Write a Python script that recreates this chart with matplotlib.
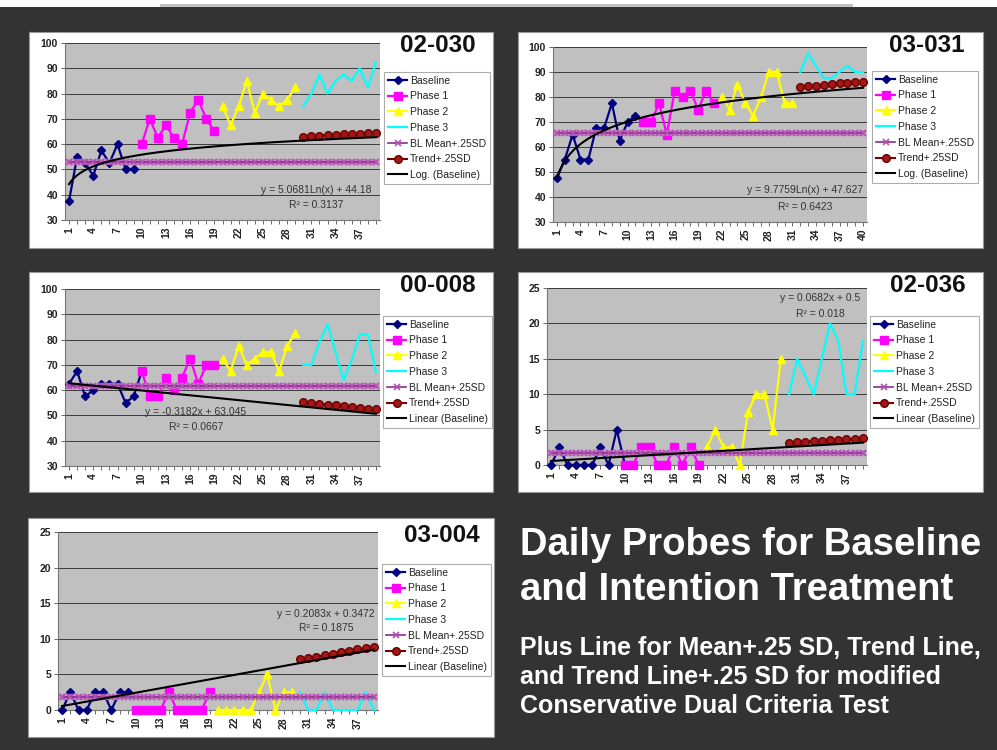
import numpy as np
import matplotlib.pyplot as plt
from matplotlib.patches import Rectangle
from matplotlib.lines import Line2D

plt.rcParams['font.family'] = ['Liberation Sans', 'DejaVu Sans']

W, H = 997, 750

# ---------------- data ----------------
# 02-030
p1_title = '02-030'
p1_ncat = 39
p1_base = [37.5, 55, 52.5, 47.5, 57.5, 52.5, 60, 50, 50]
p1_ph1 = [60, 70, 62.5, 67.5, 62.5, 60, 72.5, 77.5, 70, 65]
p1_ph2 = [75, 67.5, 75, 85, 72.5, 80, 77.5, 75, 77.5, 82.5]
p1_ph3 = [75, 80, 87.5, 80, 85, 87.5, 85, 90, 82.5, 92.5]
p1_starts = [1, 10, 20, 30]
p1_mean = 53
p1_trend_sd = [63.0, 63.2, 63.4, 63.6, 63.8, 63.9, 64.1, 64.2, 64.4, 64.5]
p1_fit = ('log', 5.0681, 44.18)
p1_eq = ['y = 5.0681Ln(x) + 44.18', 'R² = 0.3137']

# 03-031
p2_title = '03-031'
p2_ncat = 40
p2_base = [47.5, 55, 65, 55, 55, 67.5, 67.5, 77.5, 62.5, 70, 72.5]
p2_ph1 = [70, 70, 77.5, 65, 82.5, 80, 82.5, 75, 82.5, 77.5]
p2_ph2 = [80, 75, 85, 77.5, 72.5, 80, 90, 90, 77.5, 77.5]
p2_ph3 = [90, 97.5, 92.5, 87.5, 87.5, 90, 92.5, 90, 90]
p2_starts = [1, 12, 22, 32]
p2_mean = 65.5
p2_trend_sd = [84.0, 84.3, 84.6, 84.9, 85.2, 85.5, 85.7, 86.0, 86.2]
p2_fit = ('log', 9.7759, 47.627)
p2_eq = ['y = 9.7759Ln(x) + 47.627', 'R² = 0.6423']

# 00-008
p3_title = '00-008'
p3_ncat = 39
p3_base = [62.5, 67.5, 57.5, 60, 62.5, 62.5, 62.5, 55, 57.5, 67.5]
p3_ph1 = [67.5, 57.5, 57.5, 65, 60, 65, 72.5, 62.5, 70, 70]
p3_ph2 = [72.5, 67.5, 77.5, 70, 72.5, 75, 75, 67.5, 77.5, 82.5]
p3_ph3 = [70, 70, 79, 86, 75, 64, 72, 82, 82, 67]
p3_starts = [1, 10, 20, 30]
p3_mean = 61.8
p3_trend_sd = [55.2, 54.9, 54.6, 54.3, 54.0, 53.6, 53.3, 53.0, 52.7, 52.4]
p3_fit = ('lin', -0.3182, 63.045)
p3_eq = ['y = -0.3182x + 63.045', 'R² = 0.0667']

# 02-036
p4_title = '02-036'
p4_ncat = 39
p4_base = [0, 2.5, 0, 0, 0, 0, 2.5, 0, 5, 0]
p4_ph1 = [0, 0, 2.5, 2.5, 0, 0, 2.5, 0, 2.5, 0]
p4_ph2 = [2.5, 5, 2.5, 2.5, 0, 7.5, 10, 10, 5, 15]
p4_ph3 = [10, 15, 12.5, 10, 15, 20, 17.5, 10, 10, 17.5]
p4_starts = [1, 10, 20, 30]
p4_mean = 1.75
p4_trend_sd = [3.15, 3.22, 3.29, 3.35, 3.42, 3.49, 3.56, 3.63, 3.69, 3.76]
p4_fit = ('lin', 0.0682, 0.5)
p4_eq = ['y = 0.0682x + 0.5', 'R² = 0.018']

# 03-004
p5_title = '03-004'
p5_ncat = 39
p5_base = [0, 2.5, 0, 0, 2.5, 2.5, 0, 2.5, 2.5]
p5_ph1 = [0, 0, 0, 0, 2.5, 0, 0, 0, 0, 2.5]
p5_ph2 = [0, 0, 0, 0, 0, 2.5, 5, 0, 2.5, 2.5]
p5_ph3 = [2.5, 0, 0, 2.5, 0, 0, 0, 0, 2.5, 0]
p5_starts = [1, 10, 20, 30]
p5_mean = 1.8
p5_trend_sd = [7.1, 7.3, 7.5, 7.7, 7.9, 8.1, 8.3, 8.5, 8.7, 8.9]
p5_fit = ('lin', 0.2083, 0.3472)
p5_eq = ['y = 0.2083x + 0.3472', 'R² = 0.1875']

legend_labels = ['Baseline', 'Phase 1', 'Phase 2', 'Phase 3',
                 'BL Mean+.25SD', 'Trend+.25SD']

title_lines = ['Daily Probes for Baseline', 'and Intention Treatment']
sub_lines = ['Plus Line for Mean+.25 SD, Trend Line,',
             'and Trend Line+.25 SD for modified',
             'Conservative Dual Criteria Test']


def fbox(l, t, r, b):
    return [l / W, 1 - b / H, (r - l) / W, (b - t) / H]


fig = plt.figure(figsize=(W / 100, H / 100), dpi=100, facecolor='#333333')

# white strip on top
fig.patches.append(Rectangle((0, 1 - 7 / H), 1, 7 / H, transform=fig.transFigure,
                             facecolor='white', edgecolor='none', zorder=-2))
fig.lines.append(Line2D([161 / W, 851 / W], [1 - 5 / H, 1 - 5 / H],
                        transform=fig.transFigure, color='#bdbdbd', lw=2))

panels = [
    dict(t=p1_title, n=p1_ncat, d=[p1_base, p1_ph1, p1_ph2, p1_ph3], s=p1_starts,
         m=p1_mean, tsd=p1_trend_sd, fit=p1_fit, eq=p1_eq,
         yl=(30, 100), yt=np.arange(30, 101, 10),
         box=(29, 32, 493, 248), pbox=(65, 43, 380, 220), leg=(384, 72),
         tpos=(438, 45), eqpos=(316, 190, 205)),
    dict(t=p2_title, n=p2_ncat, d=[p2_base, p2_ph1, p2_ph2, p2_ph3], s=p2_starts,
         m=p2_mean, tsd=p2_trend_sd, fit=p2_fit, eq=p2_eq,
         yl=(30, 100), yt=np.arange(30, 101, 10),
         box=(518, 32, 983, 248), pbox=(553, 47, 867, 222), leg=(872, 71),
         tpos=(927, 45), eqpos=(805, 190, 207)),
    dict(t=p3_title, n=p3_ncat, d=[p3_base, p3_ph1, p3_ph2, p3_ph3], s=p3_starts,
         m=p3_mean, tsd=p3_trend_sd, fit=p3_fit, eq=p3_eq,
         yl=(30, 100), yt=np.arange(30, 101, 10),
         box=(29, 272, 493, 492), pbox=(65, 289, 380, 466), leg=(383, 316),
         tpos=(438, 286), eqpos=(196, 412, 427)),
    dict(t=p4_title, n=p4_ncat, d=[p4_base, p4_ph1, p4_ph2, p4_ph3], s=p4_starts,
         m=p4_mean, tsd=p4_trend_sd, fit=p4_fit, eq=p4_eq,
         yl=(0, 25), yt=np.arange(0, 26, 5),
         box=(518, 272, 983, 492), pbox=(547, 288, 867, 465), leg=(870, 316),
         tpos=(928, 286), eqpos=(820, 298, 314)),
    dict(t=p5_title, n=p5_ncat, d=[p5_base, p5_ph1, p5_ph2, p5_ph3], s=p5_starts,
         m=p5_mean, tsd=p5_trend_sd, fit=p5_fit, eq=p5_eq,
         yl=(0, 25), yt=np.arange(0, 26, 5),
         box=(28, 518, 494, 737), pbox=(58, 532, 378, 710), leg=(382, 564),
         tpos=(442, 536), eqpos=(326, 614, 628)),
]

colors = ['#000080', '#ff00ff', '#ffff00', '#00ffff']
markers = ['D', 's', '^', None]
msizes = [4.5, 6, 5.5, 0]

for p in panels:
    l, t, r, b = p['box']
    fig.patches.append(Rectangle((l / W, 1 - b / H), (r - l) / W, (b - t) / H,
                                 transform=fig.transFigure, facecolor='white',
                                 edgecolor='#999999', lw=0.8, zorder=-1))
    ax = fig.add_axes(fbox(*p['pbox']))
    ax.set_facecolor('#c0c0c0')
    n = p['n']
    handles = []
    for k in range(4):
        vals = p['d'][k]
        xs = np.arange(p['s'][k], p['s'][k] + len(vals))
        h, = ax.plot(xs, vals, color=colors[k], lw=1.6, marker=markers[k],
                     ms=msizes[k], clip_on=False, zorder=3 + k)
        handles.append(h)
    # BL mean line: soft pink band under a purple line with x markers
    ax.plot(np.arange(1, n + 1), [p['m']] * n, color='#cc80cc', lw=4.5,
            alpha=0.8, zorder=7)
    h, = ax.plot(np.arange(1, n + 1), [p['m']] * n, color='#8a2a8a', lw=1.2,
                 marker='x', ms=4, mew=1.2, mec='#b050b0', zorder=7.5)
    handles.append(h)
    xs = np.arange(p['s'][3], p['s'][3] + len(p['tsd']))
    h, = ax.plot(xs, p['tsd'], color='#800000', lw=1.5, marker='o', ms=5.5,
                 mfc='#a01818', mec='#700000', zorder=8)
    handles.append(h)
    kind, a, c = p['fit']
    xf = np.linspace(1, n, 200)
    yf = a * np.log(xf) + c if kind == 'log' else a * xf + c
    h, = ax.plot(xf, yf, color='black', lw=1.5, zorder=9)
    handles.append(h)
    fitname = 'Log. (Baseline)' if kind == 'log' else 'Linear (Baseline)'

    ax.set_xlim(0.5, n + 0.5)
    ax.set_ylim(*p['yl'])
    ax.set_yticks(p['yt'])
    ax.set_yticklabels([str(v) for v in p['yt']], fontsize=7.5,
                       fontweight='bold', color='#222222')
    ax.set_xticks(np.arange(1, n + 1))
    ax.set_xticklabels([str(i) if (i - 1) % 3 == 0 else '' for i in range(1, n + 1)],
                       rotation=90, fontsize=7.5, fontweight='bold', color='#222222')
    ax.tick_params(axis='both', length=3, width=0.7, color='#666666', pad=2)
    ax.yaxis.grid(True, color='#3a3a3a', lw=0.7)
    ax.set_axisbelow(True)
    for sp in ['top', 'right']:
        ax.spines[sp].set_visible(False)
    for sp in ['left', 'bottom']:
        ax.spines[sp].set_color('#777777')
        ax.spines[sp].set_linewidth(0.8)

    ex, ey1, ey2 = p['eqpos']
    fig.text(ex / W, 1 - ey1 / H, p['eq'][0], fontsize=7.5, color='#333333',
             ha='center', va='center')
    fig.text(ex / W, 1 - ey2 / H, p['eq'][1], fontsize=7.5, color='#333333',
             ha='center', va='center')

    fig.text(p['tpos'][0] / W, 1 - p['tpos'][1] / H, p['t'], fontsize=17.5,
             fontweight='bold', color='#111111', ha='center', va='center')

    leg = fig.legend(handles, legend_labels + [fitname], loc='upper left',
                     bbox_to_anchor=(p['leg'][0] / W, 1 - p['leg'][1] / H),
                     fontsize=7.5, frameon=True, fancybox=False, edgecolor='#999999',
                     handlelength=1.9, handletextpad=0.25, labelspacing=0.55,
                     borderpad=0.35, borderaxespad=0, numpoints=1)
    leg.get_frame().set_linewidth(0.8)
    for txt in leg.get_texts():
        txt.set_color('#222222')

# text block on the right
for i, line in enumerate(title_lines):
    fig.text(520 / W, 1 - (555 + 45 * i) / H, line, fontsize=27.5, fontweight='bold',
             color='white', ha='left', va='baseline')
for i, line in enumerate(sub_lines):
    fig.text(520 / W, 1 - (655 + 29 * i) / H, line, fontsize=18, fontweight='bold',
             color='white', ha='left', va='baseline')

plt.savefig('out.png', dpi=100, facecolor=fig.get_facecolor())
